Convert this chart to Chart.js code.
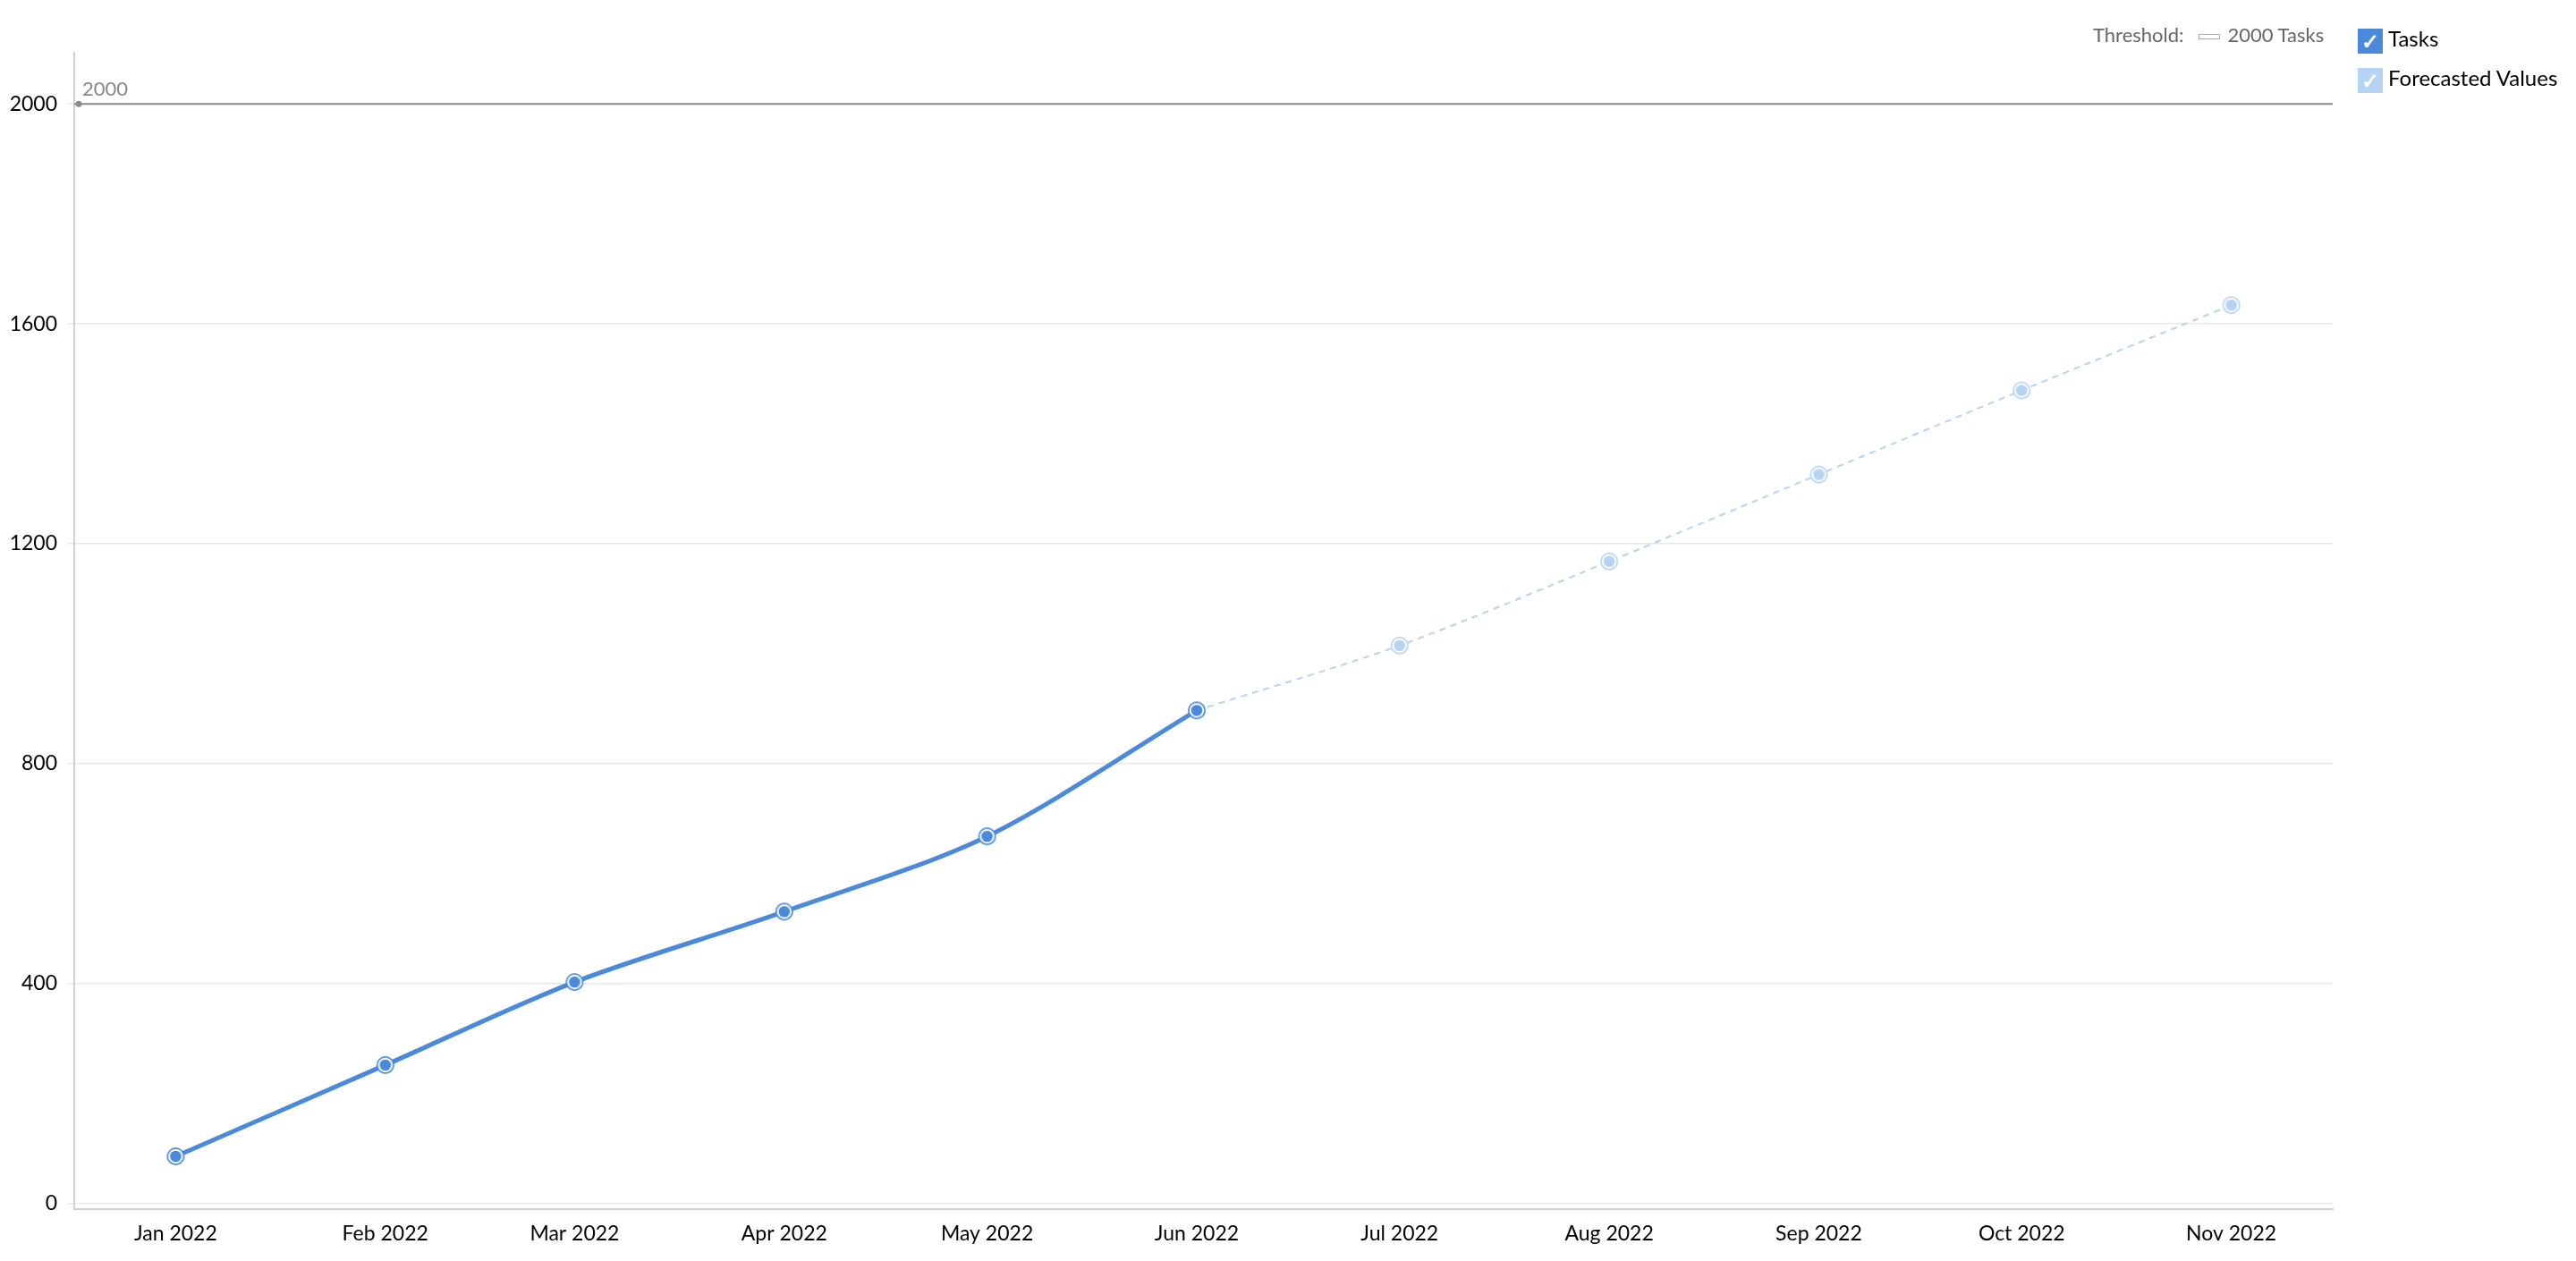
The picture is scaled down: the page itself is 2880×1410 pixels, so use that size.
<!DOCTYPE html>
<html>
<head>
<meta charset="utf-8">
<script src="https://cdn.jsdelivr.net/npm/chart.js@4.4.1/dist/chart.umd.min.js"></script>
<style>
  body { margin: 0; background: #fff; font-family: Lato, sans-serif; }
  #wrap { position: relative; width: 2880px; height: 1410px; }
  .thr { position: absolute; top: 25px; left: 2340px; font-size: 22px; color: #666; white-space: nowrap; }
  .thr .icon { display: inline-block; width: 22px; height: 4px; border: 1px solid #aaa; vertical-align: middle; margin: 0 9px 0 16px; }
  .leg { position: absolute; left: 2636px; font-size: 24px; color: #000; white-space: nowrap; }
  .leg .box { display: inline-block; width: 28px; height: 28px; color: #fff; font-size: 24px; font-weight: bold; line-height: 28px; text-align: center; vertical-align: middle; margin-right: 6px; }
</style>
</head>
<body>
<div id="wrap">
  <canvas id="chart" width="2880" height="1410"></canvas>
  <div class="thr">Threshold:<span class="icon"></span>2000 Tasks</div>
  <div class="leg" style="top:28px"><span class="box" style="background:#4a89dc">✓</span>Tasks</div>
  <div class="leg" style="top:72px"><span class="box" style="background:#b5d3f3">✓</span>Forecasted Values</div>
</div>
<script>
const months = ['2022-01-01', '2022-02-01', '2022-03-01', '2022-04-01', '2022-05-01', '2022-06-01',
                '2022-07-01', '2022-08-01', '2022-09-01', '2022-10-01', '2022-11-01'];
const tickLabels = ['Jan 2022', 'Feb 2022', 'Mar 2022', 'Apr 2022', 'May 2022', 'Jun 2022',
                    'Jul 2022', 'Aug 2022', 'Sep 2022', 'Oct 2022', 'Nov 2022'];
const tasks = [86, 252, 403, 531, 668, 897, null, null, null, null, null];
const forecast = [null, null, null, null, null, 897, 1015, 1168, 1326, 1479, 1634];
const yTicks = [0, 400, 800, 1200, 1600, 2000];
const threshold = 2000;

const blue = '#4a89dc';
const lightBlue = '#b5d3f3';

// days since first month, so spacing follows the calendar
const start = Date.parse(months[0]);
const days = months.map(m => (Date.parse(m) - start) / 86400000);

function toPoints(values) {
    return values.map((v, i) => ({ x: days[i], y: v }));
}

function marker(color) {
    const c = document.createElement('canvas');
    c.width = 22; c.height = 22;
    const g = c.getContext('2d');
    g.fillStyle = color;
    g.beginPath(); g.arc(11, 11, 10, 0, Math.PI * 2); g.fill();
    g.fillStyle = '#fff';
    g.beginPath(); g.arc(11, 11, 8.3, 0, Math.PI * 2); g.fill();
    g.fillStyle = color;
    g.beginPath(); g.arc(11, 11, 6.3, 0, Math.PI * 2); g.fill();
    return c;
}

const thresholdLine = {
    id: 'thresholdLine',
    beforeDatasetsDraw(chart) {
        const { ctx, chartArea, scales } = chart;
        const y = scales.y.getPixelForValue(threshold);
        ctx.save();
        ctx.strokeStyle = '#8c8c8c';
        ctx.lineWidth = 2;
        ctx.beginPath();
        ctx.moveTo(chartArea.left, y);
        ctx.lineTo(chartArea.right, y);
        ctx.stroke();
        ctx.fillStyle = '#8c8c8c';
        ctx.beginPath();
        ctx.arc(chartArea.left + 5, y, 3.5, 0, Math.PI * 2);
        ctx.fill();
        ctx.font = '22px Lato';
        ctx.fillStyle = '#888';
        ctx.textBaseline = 'alphabetic';
        ctx.fillText(String(threshold), chartArea.left + 9, y - 9);
        ctx.restore();
    }
};

Chart.defaults.font.family = 'Lato';
Chart.defaults.font.size = 23;
Chart.defaults.color = '#000';

new Chart(document.getElementById('chart').getContext('2d'), {
    type: 'line',
    data: {
        datasets: [
            {
                label: 'Tasks',
                data: toPoints(tasks),
                borderColor: blue,
                borderWidth: 5,
                tension: 0.3,
                pointStyle: marker(blue),
                order: 1
            },
            {
                label: 'Forecasted Values',
                data: toPoints(forecast),
                borderColor: lightBlue,
                borderWidth: 2,
                borderDash: [7, 6],
                tension: 0.3,
                pointStyle: forecast.map((v, i) => i === 5 ? false : marker(lightBlue)),
                order: 2
            }
        ]
    },
    options: {
        responsive: false,
        animation: false,
        layout: { padding: { top: 59, right: 272, left: 0, bottom: 0 } },
        plugins: { legend: { display: false }, tooltip: { enabled: false } },
        scales: {
            x: {
                type: 'linear',
                min: -15,
                max: 319,
                afterBuildTicks: scale => { scale.ticks = days.map(d => ({ value: d })); },
                afterFit: scale => { scale.height = 58; },
                ticks: {
                    autoSkip: false,
                    maxRotation: 0,
                    padding: 14,
                    callback: (v, i) => tickLabels[i]
                },
                grid: { display: false, drawTicks: false },
                border: { display: true, color: '#d0d0d0', width: 2 }
            },
            y: {
                min: -10,
                max: 2093,
                afterBuildTicks: scale => { scale.ticks = yTicks.map(v => ({ value: v })); },
                afterFit: scale => { scale.width = 83; },
                ticks: { padding: 12, callback: v => String(v) },
                grid: { color: '#e8e8e8', lineWidth: 1.5, tickLength: 7 },
                border: { display: true, color: '#d0d0d0', width: 2 }
            }
        }
    },
    plugins: [thresholdLine]
});
</script>
</body>
</html>
